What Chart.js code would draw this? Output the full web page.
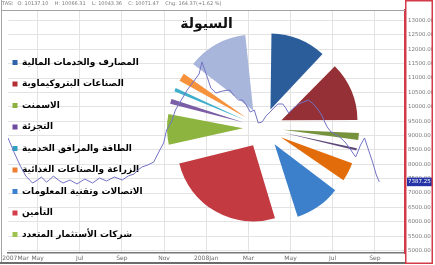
<!DOCTYPE html>
<html>
<head>
<meta charset="utf-8">
<script src="https://cdn.jsdelivr.net/npm/chart.js@4.4.1/dist/chart.umd.min.js"></script>
<style>
    html, body { margin: 0; padding: 0; background: #fff; overflow: hidden; }
    #wrap { position: relative; width: 435px; height: 265px; }
    #wrap canvas { position: absolute; left: 0; top: 0; }
</style>
</head>
<body>
<div id="wrap">
    <canvas id="bg" width="435" height="265"></canvas>
    <canvas id="pie" width="435" height="265"></canvas>
    <canvas id="fg" width="435" height="265"></canvas>
</div>
<script>
// --- index line (months counted from 2007-03-01) ---
const closeMonth = [0.60, 0.88, 1.16, 1.44, 1.76, 2.00, 2.18, 2.42, 2.56, 2.75,
    2.98, 3.21, 3.54, 3.87, 4.24, 4.61, 4.94, 5.27, 5.64, 6.02,
    6.30, 6.58, 6.76, 6.95, 7.23, 7.51, 7.75, 7.98, 8.12, 8.35,
    8.54, 8.82, 9.10, 9.38, 9.66, 9.80, 10.03, 10.22, 10.46, 10.78,
    11.11, 11.34, 11.53, 11.72, 11.90, 12.09, 12.28, 12.47, 12.65, 12.84,
    13.03, 13.21, 13.40, 13.63, 13.77, 13.91, 14.15, 14.38, 14.61, 14.85,
    15.08, 15.32, 15.50, 15.60, 15.74, 15.92, 16.20, 16.44, 16.62, 16.86,
    17.09, 17.32, 17.51, 17.70, 17.89, 18.07, 18.21];
const closeValue = [8913, 8426, 7974, 7592, 7348, 7453, 7557, 7383, 7453, 7592,
    7453, 7348, 7453, 7314, 7487, 7348, 7522, 7418, 7557, 7453,
    7592, 7661, 7800, 7905, 7974, 8079, 8426, 8740, 9192, 9470,
    9887, 10235, 10583, 10861, 11139, 11557, 11070, 10652, 10478, 10548,
    10583, 10374, 10235, 10235, 10061, 9818, 9887, 9435, 9470, 9679,
    9818, 9957, 10096, 10096, 9957, 9783, 9957, 10096, 10165, 10235,
    10096, 9887, 9679, 9505, 9296, 9122, 9018, 8879, 8740, 8496,
    8253, 8670, 8913, 8496, 8079, 7627, 7387.25];
const lastClose = closeValue[closeValue.length - 1];

const monthTickPos = [0.95, 2, 4, 6, 8, 10, 12, 14, 16, 18];
const monthTickLabels = ['2007Mar', 'May', 'Jul', 'Sep', 'Nov', '2008Jan', 'Mar', 'May', 'Jul', 'Sep'];
const priceTicks = [13000, 12500, 12000, 11500, 11000, 10500, 10000, 9500, 9000,
    8500, 8000, 7500, 7000, 6500, 6000, 5500, 5000];
const headerText = 'TASI   O: 10137.10    H: 10066.31    L: 10043.36    C: 10071.47    Chg: 164.37(+1.62 %)';
const pieTitle = 'السيولة';

// --- liquidity pie ---
const sectorNames = ['المصارف والخدمات المالية', 'الصناعات البتروكيماوية', 'الاسمنت', 'التجزئة',
    'الطاقة والمرافق الخدمية', 'الزراعة والصناعات الغذائية', 'الاتصالات وتقنية المعلومات',
    'التأمين', 'شركات الأستثمار المتعدد'];
const sectorColors = ['#2f63ad', '#b02e34', '#8cb140', '#7048a0', '#2f9fc2', '#ee7d2f', '#3d7fd0', '#d23f4b', '#9ec24e'];

const sliceLabels = ['المصارف', 'البتروكيماويات', 'الاسمنت', 'التجزئة', 'الطاقة', 'الزراعة',
    'الاتصالات', 'التأمين', 'الاستثمار المتعدد', 'الاستثمار الصناعي', 'التشييد والبناء',
    'التطوير العقاري', 'النقل', 'الإعلام والنشر', 'الفنادق والسياحة'];
const sliceShares = [12.2, 12.9, 2.6, 1.7, 0.7, 4.9, 10.3, 25.8, 7.2, 2.2, 1.9, 2.8, 13.2, 0.8, 0.7];
const sliceColors = ['#2c5d9b', '#953136', '#76923c', '#5f497a', '#31849b', '#e36c0a', '#3c7fcb',
    '#c33b41', '#8db43e', '#7b5ea6', '#3eaecb', '#f7923c', '#a9b6dc', '#dd9d9c', '#c4d89b'];

Chart.defaults.font.family = "'DejaVu Sans', sans-serif";

const pricePoints = closeMonth.map((m, i) => ({ x: m, y: closeValue[i] }));

// frame of the price panel and the red box round the price axis
const framePlugin = {
    id: 'frame',
    beforeDatasetsDraw(chart) {
        const { ctx, chartArea: a, scales: { x, y } } = chart;
        ctx.save();
        ctx.strokeStyle = '#a4a4a4';
        ctx.lineWidth = 1;
        ctx.beginPath();
        ctx.moveTo(1.5, a.top + 0.5);
        ctx.lineTo(a.right, a.top + 0.5);
        ctx.moveTo(1.5, 0);
        ctx.lineTo(1.5, x.bottom);
        ctx.stroke();
        ctx.strokeStyle = '#6c6c6c';
        ctx.lineWidth = 2;
        ctx.beginPath();
        ctx.moveTo(0, x.bottom);
        ctx.lineTo(y.left, x.bottom);
        ctx.stroke();
        ctx.strokeStyle = '#d23a48';
        ctx.lineWidth = 1.5;
        ctx.strokeRect(y.left + 0.75, 0.75, y.right - y.left - 1.5, x.bottom - 0.5);
        ctx.restore();
    }
};

function lineConfig(decor) {
    const hide = 'rgba(0,0,0,0)';
    return {
        type: 'line',
        data: {
            datasets: [{
                data: pricePoints,
                borderColor: decor ? hide : '#7272c4',
                borderWidth: 1,
                pointRadius: 0,
                tension: 0
            }]
        },
        options: {
            responsive: false,
            animation: false,
            events: [],
            layout: { padding: { left: 2, right: 2, top: 0, bottom: 2 } },
            plugins: {
                legend: { display: false },
                tooltip: { enabled: false },
                title: {
                    display: true,
                    text: headerText,
                    align: 'start',
                    color: decor ? '#7a7a7a' : hide,
                    font: { size: 5, weight: 'normal' },
                    padding: { top: 1, bottom: 3 }
                },
                subtitle: {
                    display: true,
                    text: pieTitle,
                    fullSize: false,
                    color: decor ? '#111' : hide,
                    font: { size: 14, weight: 'bold', lineHeight: 1 },
                    padding: { top: 7, bottom: -21 }
                }
            },
            scales: {
                x: {
                    type: 'linear',
                    min: 0.6,
                    max: 19.43,
                    afterBuildTicks: s => { s.ticks = monthTickPos.map(v => ({ value: v })); },
                    afterFit: s => { s.height = 10; },
                    ticks: {
                        autoSkip: false,
                        maxRotation: 0,
                        padding: 2,
                        color: decor ? '#6a6a6a' : hide,
                        font: { size: 6 },
                        callback: (v, i) => monthTickLabels[i]
                    },
                    grid: {
                        drawTicks: false,
                        color: c => (!decor || c.index === 0) ? hide : '#e3e3e3'
                    },
                    border: { color: decor ? '#777' : hide, width: 1.5 }
                },
                y: {
                    position: 'right',
                    min: 4914,
                    max: 13365,
                    afterBuildTicks: s => { s.ticks = priceTicks.concat([lastClose]).map(v => ({ value: v })); },
                    afterFit: s => { s.width = 28; },
                    ticks: {
                        autoSkip: false,
                        padding: 3,
                        font: { size: 5.5 },
                        color: c => !decor ? hide : (c.tick.value === lastClose ? '#ffffff' : '#7a7a7a'),
                        showLabelBackdrop: c => decor && c.tick.value === lastClose,
                        backdropColor: '#2433a6',
                        backdropPadding: { left: 1, right: 2, top: 1, bottom: 1 },
                        callback: v => v.toFixed(2)
                    },
                    grid: {
                        drawTicks: false,
                        color: c => (!decor || (c.tick && c.tick.value === lastClose)) ? hide : '#e3e3e3'
                    },
                    border: { color: decor ? '#d23a48' : hide, width: 1.5 }
                }
            }
        },
        plugins: decor ? [framePlugin] : []
    };
}

// keep exploded slices at the same outer radius
const flatExplode = {
    id: 'flatExplode',
    afterDatasetUpdate(chart, args) {
        args.meta.data.forEach(arc => {
            const off = ((arc.options && arc.options.offset) || 0) / 4;
            const fix = 1 - Math.sin(Math.min(Math.PI, arc.circumference || 0));
            arc.outerRadius -= off * fix;
        });
    }
};

new Chart(document.getElementById('bg'), lineConfig(true));

const pieChart = new Chart(document.getElementById('pie'), {
    type: 'pie',
    data: {
        labels: sliceLabels,
        datasets: [{
            data: sliceShares,
            backgroundColor: sliceColors,
            borderWidth: 0,
            offset: 80,
            clip: false
        }]
    },
    options: {
        responsive: false,
        animation: false,
        events: [],
        radius: 76,
        layout: { padding: { left: 0, right: 0, top: 4.5, bottom: 13.5 } },
        plugins: {
            tooltip: { enabled: false },
            legend: {
                position: 'left',
                align: 'end',
                labels: {
                    boxWidth: 5,
                    boxHeight: 5,
                    padding: 12.5,
                    color: '#111',
                    font: { size: 9, weight: 'bold' },
                    generateLabels: () => sectorNames.map((t, i) => ({
                        text: t,
                        fillStyle: sectorColors[i],
                        strokeStyle: sectorColors[i],
                        lineWidth: 0,
                        hidden: false,
                        index: i
                    }))
                }
            }
        }
    },
    plugins: [flatExplode]
});

// put the pie centre at x=263 whatever width the legend takes
pieChart.options.layout.padding.right = pieChart.legend.width - 91;
pieChart.update();

new Chart(document.getElementById('fg'), lineConfig(false));
</script>
</body>
</html>
